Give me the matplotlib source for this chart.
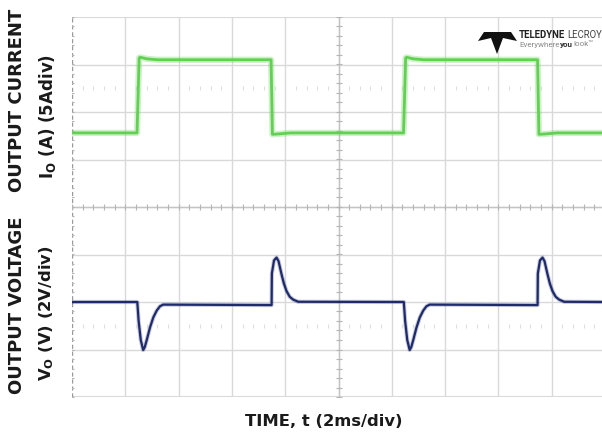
import numpy as np
import matplotlib
matplotlib.use("Agg")
import matplotlib.pyplot as plt
from matplotlib.patches import Polygon

# ---------------------------------------------------------------------------
# Data (time in ms, 2 ms/div)
# ---------------------------------------------------------------------------

# Output current, amps (5 A/div)
current_t = [0.0, 2.44, 2.52, 2.56, 2.8, 3.2, 7.47, 7.52, 7.8, 8.2,
             12.44, 12.52, 12.56, 12.8, 13.2, 17.47, 17.52, 17.8, 18.2, 20.0]
current_a = [2.8, 2.8, 10.7, 10.76, 10.6, 10.5, 10.5, 2.65, 2.7, 2.8,
             2.8, 10.7, 10.76, 10.6, 10.5, 10.5, 2.65, 2.7, 2.8, 2.8]

# Output voltage deviation, volts (2 V/div)
voltage_t = [0.0, 2.45, 2.50, 2.58, 2.67, 2.73, 2.80, 2.925, 3.05, 3.18, 3.30, 3.42,
             7.49, 7.50, 7.58, 7.675, 7.75, 7.86, 7.95, 8.05, 8.17, 8.30, 8.49,
             12.45, 12.50, 12.58, 12.67, 12.73, 12.80, 12.925, 13.05, 13.18, 13.30, 13.42,
             17.47, 17.48, 17.56, 17.655, 17.73, 17.84, 17.93, 18.03, 18.15, 18.28, 18.47,
             20.0]
voltage_v = [0.0, 0.0, -0.8, -1.6, -2.02, -1.9, -1.62, -1.08, -0.65, -0.36, -0.18, -0.11,
             -0.13, 1.2, 1.75, 1.87, 1.72, 1.18, 0.78, 0.46, 0.22, 0.10, 0.01,
             0.0, -0.8, -1.6, -2.02, -1.9, -1.62, -1.08, -0.65, -0.36, -0.18, -0.11,
             -0.13, 1.2, 1.75, 1.87, 1.72, 1.18, 0.78, 0.46, 0.22, 0.10, 0.01,
             0.0]

CURRENT_SCALE = 5.0    # A/div
VOLTAGE_SCALE = 2.0    # V/div
CURRENT_OFFSET = 1.0   # div above centre
VOLTAGE_OFFSET = -2.0  # div below centre

TIME_PER_DIV = 2.0
N_XDIV, N_YDIV = 10, 8

GREEN = "#62d052"
NAVY = "#1f2a6b"
GRID = "#d9d9d9"
TEXT = "#1a1a1a"

plt.rcParams["font.family"] = ["DejaVu Sans"]
plt.rcParams["mathtext.fontset"] = "dejavusans"
plt.rcParams["mathtext.default"] = "bf"

W, H = 602, 437
fig = plt.figure(figsize=(W / 100, H / 100), dpi=100)
ax = fig.add_axes([72 / W, 40 / H, 533 / W, 380 / H])
xmax = N_XDIV * TIME_PER_DIV
ax.set_xlim(0, xmax)
ax.set_ylim(-N_YDIV / 2, N_YDIV / 2)
ax.set_xticks([])
ax.set_yticks([])
for s in ax.spines.values():
    s.set_visible(False)

# scope graticule
for i in range(1, N_XDIV):
    ax.axvline(i * TIME_PER_DIV, color=GRID, lw=1.0, zorder=0)
for j in range(-N_YDIV // 2 + 1, N_YDIV // 2):
    ax.axhline(j, color=GRID, lw=1.0, zorder=0)
ax.axhline(N_YDIV / 2, color=GRID, lw=1.5, zorder=0)
ax.axhline(-N_YDIV / 2, color=GRID, lw=1.5, zorder=0)
ax.axvline(0, color="#9a9a9a", lw=1.0, ls=(0, (3, 2)), zorder=0)
ax.axhline(0, color="#c4c4c4", lw=1.0, zorder=0)
ax.axvline(xmax / 2, color="#c4c4c4", lw=1.0, zorder=0)

minor_x = np.arange(0, xmax + 1e-9, TIME_PER_DIV / 5)
minor_y = np.arange(-N_YDIV / 2, N_YDIV / 2 + 1e-9, 0.2)
ax.plot(minor_x, np.zeros_like(minor_x), ls="none", marker="|", ms=4,
        color="#b5b5b5", mew=0.8, zorder=0)
ax.plot(np.full_like(minor_y, xmax / 2), minor_y, ls="none", marker="_", ms=4,
        color="#b5b5b5", mew=0.8, zorder=0)
ax.plot(np.zeros_like(minor_y), minor_y, ls="none", marker="_", ms=3,
        color="#b5b5b5", mew=0.8, zorder=0)
faint_x = minor_x[np.abs(minor_x / TIME_PER_DIV - np.round(minor_x / TIME_PER_DIV)) > 1e-6]
for yy in (2.5, -2.5):
    ax.plot(faint_x, np.full_like(faint_x, yy), ls="none", marker="|", ms=3.5,
            color="#dedede", mew=0.8, zorder=0)

# traces
cur_div = CURRENT_OFFSET + np.array(current_a) / CURRENT_SCALE
volt_div = VOLTAGE_OFFSET + np.array(voltage_v) / VOLTAGE_SCALE
ax.plot(current_t, cur_div, color=GREEN, lw=4.5, alpha=0.3, zorder=2)
ax.plot(current_t, cur_div, color=GREEN, lw=2.0, zorder=3)
ax.plot(voltage_t, volt_div, color=NAVY, lw=3.0, alpha=0.25, zorder=2)
ax.plot(voltage_t, volt_div, color=NAVY, lw=1.6, zorder=3)


def fx(px):
    return px / W


def fy(py):
    return 1 - py / H


# axis labels
lab = dict(rotation=90, ha="center", va="center", fontweight="bold", color=TEXT)
fig.text(fx(17), fy(100), "OUTPUT CURRENT", fontsize=13, **lab)
fig.text(fx(47), fy(117), r"I$_\mathbf{O}$ (A) (5Adiv)", fontsize=12, **lab)
fig.text(fx(17), fy(305), "OUTPUT VOLTAGE", fontsize=13, **lab)
fig.text(fx(47), fy(313), r"V$_\mathbf{O}$ (V) (2V/div)", fontsize=11.8, **lab)
fig.text(fx(324), fy(422), "TIME, t (2ms/div)", ha="center", va="center",
         fontsize=11.8, fontweight="bold", color=TEXT)

# Teledyne LeCroy watermark
logo_px = [(478, 41), (484, 32), (511, 32), (517, 41), (503, 38), (497, 54), (491, 38)]
fig.patches.append(Polygon([(fx(x), fy(y)) for x, y in logo_px], closed=True,
                           facecolor="#111111", edgecolor="none",
                           transform=fig.transFigure, figure=fig))
renderer = fig.canvas.get_renderer()


def text_run(x0, y0, parts, size, gap):
    x = fx(x0)
    for s, weight, col in parts:
        t = fig.text(x, fy(y0), s, ha="left", va="center", fontsize=size,
                     fontweight=weight, color=col, family="Roboto")
        bb = t.get_window_extent(renderer)
        x = (bb.x1 + gap) / W


text_run(519, 35, [("TELEDYNE", "bold", "#222222"), ("LECROY", "normal", "#444444")], 6.9, 1.5)
text_run(519, 44.5, [("Everywhere", "normal", "#8a8a8a"), ("you", "bold", "#333333"),
                     ("look\u2122", "normal", "#8a8a8a")], 5.8, 0.3)

fig.savefig("out.png", dpi=100)
